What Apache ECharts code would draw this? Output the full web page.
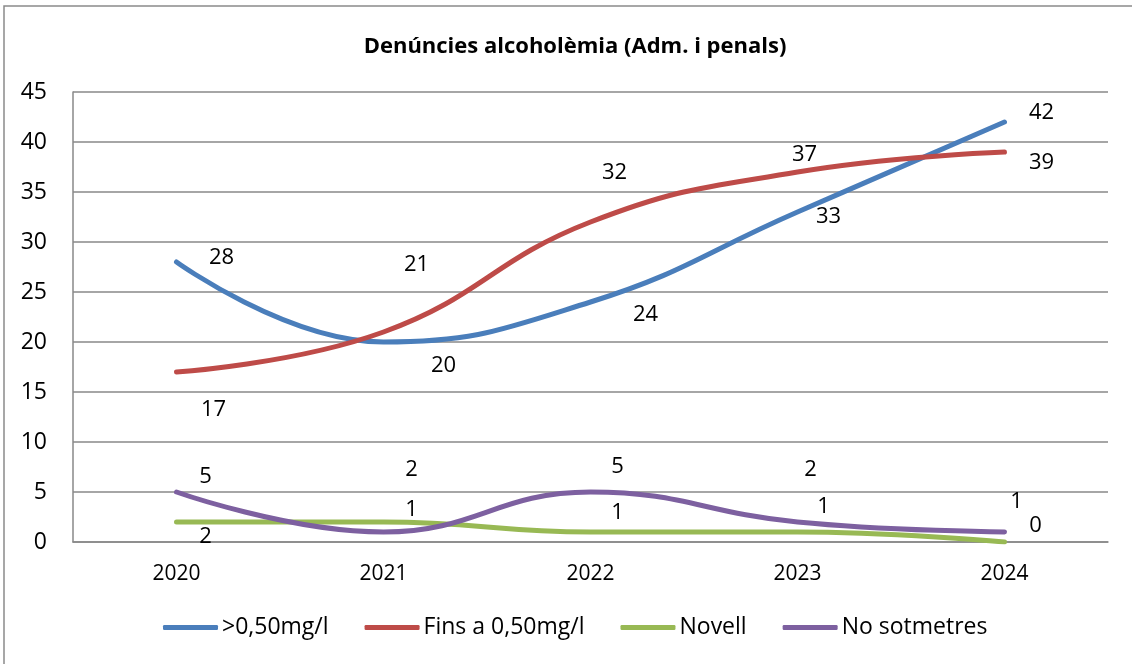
<!DOCTYPE html>
<html>
<head>
<meta charset="utf-8">
<script src="https://cdn.jsdelivr.net/npm/echarts@6/dist/echarts.min.js"></script>
<style>
  html, body { margin: 0; padding: 0; background: #fff; }
  #chart { width: 1132px; height: 664px; }
</style>
</head>
<body>
<div id="chart"></div>
<script>
// Years on the category axis
const years = ['2020', '2021', '2022', '2023', '2024'];

// Reports per year for each category
const overLimit = [28, 20, 24, 33, 42];   // >0,50mg/l
const upToLimit = [17, 21, 32, 37, 39];   // Fins a 0,50mg/l
const novice    = [2, 2, 1, 1, 0];        // Novell
const refusal   = [5, 1, 5, 2, 1];        // No sotmetres

const seriesNames = ['>0,50mg/l', 'Fins a 0,50mg/l', 'Novell', 'No sotmetres'];
const yTicks = { min: 0, max: 45, interval: 5 };

// Label placement (pixel offsets from each point)
const labelOffsets = [
  [[45, -4], [60, 24], [55, 13], [31, 5], [37, -9]],
  [[37, 38], [33, -67], [24, -49], [7, -17], [37, 11]],
  [[29, 15], [28, -52], [27, -19], [26, -25], [31, -16]],
  [[29, -15], [28, -22], [27, -25], [13, -52], [12, -30]]
];
const colors = ['#4A7EBB', '#BE4B48', '#98B954', '#7D60A0'];
const FONT = '"Open Sans", "Noto Sans", sans-serif';

function buildSeries(name, values, offsets, color) {
  return {
    name: name,
    type: 'line',
    smooth: 0.45,
    data: values.map((v, i) => ({
      value: v,
      label: { offset: offsets[i] }
    })),
    symbol: 'circle',
    symbolSize: 0,
    showSymbol: true,
    lineStyle: { color: color, width: 5, cap: 'round' },
    itemStyle: { color: color },
    label: {
      show: true,
      position: 'inside',
      color: '#000',
      fontSize: 22,
      fontFamily: FONT
    },
    emphasis: { disabled: true },
    animation: false
  };
}

const chart = echarts.init(document.getElementById('chart'));
chart.setOption({
  backgroundColor: '#fff',
  animation: false,
  title: {
    text: 'Denúncies alcoholèmia (Adm. i penals)',
    left: 570,
    textAlign: 'center',
    top: 31,
    textStyle: { fontFamily: FONT, fontWeight: 'bold', fontSize: 22, color: '#000' }
  },
  graphic: [{
    type: 'rect',
    shape: { x: 4, y: 6, width: 1200, height: 700 },
    style: { fill: 'none', stroke: '#8a8a8a', lineWidth: 1.5 },
    silent: true
  }],
  legend: {
    data: seriesNames,
    bottom: 20,
    left: 158,
    icon: 'roundRect',
    itemWidth: 55,
    itemHeight: 5,
    itemGap: 36,
    textStyle: { fontFamily: FONT, fontSize: 23, color: '#000', padding: [0, 0, 0, -1] }
  },
  grid: { left: 73, right: 24, top: 92, bottom: 122, containLabel: false },
  xAxis: {
    type: 'category',
    data: years,
    boundaryGap: true,
    axisLine: { lineStyle: { color: '#888', width: 1.5 } },
    axisTick: { show: false },
    axisLabel: { color: '#000', fontFamily: FONT, fontSize: 21, margin: 22 }
  },
  yAxis: {
    type: 'value',
    min: yTicks.min,
    max: yTicks.max,
    interval: yTicks.interval,
    axisLine: { show: true, lineStyle: { color: '#888', width: 1.5 } },
    axisTick: { show: false },
    splitLine: { lineStyle: { color: '#888', width: 1.5 } },
    axisLabel: { color: '#000', fontFamily: FONT, fontSize: 23, margin: 26 }
  },
  series: [
    buildSeries(seriesNames[0], overLimit, labelOffsets[0], colors[0]),
    buildSeries(seriesNames[1], upToLimit, labelOffsets[1], colors[1]),
    buildSeries(seriesNames[2], novice, labelOffsets[2], colors[2]),
    buildSeries(seriesNames[3], refusal, labelOffsets[3], colors[3])
  ]
});
</script>
</body>
</html>
